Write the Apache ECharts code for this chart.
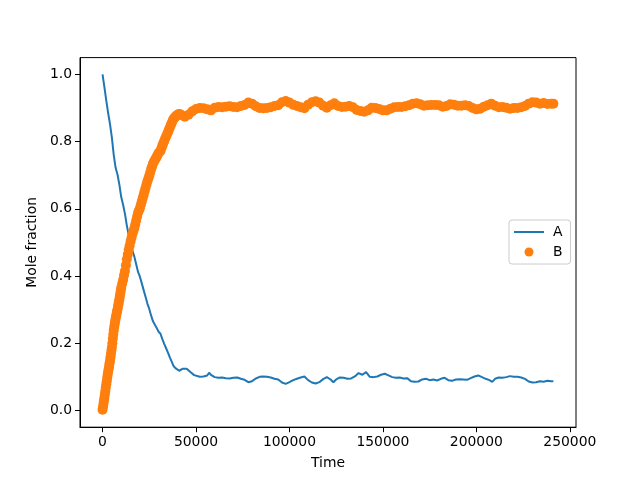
<!DOCTYPE html>
<html>
<head>
<meta charset="utf-8">
<script src="https://cdn.jsdelivr.net/npm/echarts@6/dist/echarts.min.js"></script>
<style>html,body{margin:0;padding:0;background:#fff}#c{width:640px;height:480px}</style>
</head>
<body>
<div id="c"></div>
<script>
// Series A (line): time and mole fraction
const timeA = [0,1000,2000,3000,4000,5000,6000,7000,8000,9000,10000,11000,12000,13000,14000,15000,16000,17000,18000,19000,20000,21000,22000,23000,24000,25000,26000,27000,28000,29000,30000,31000,32000,33000,34000,35000,36000,37000,38000,39000,40000,41000,42000,43000,44000,45000,46000,47000,48000,49000,50000,52000,54000,56000,57000,58000,60000,62000,64000,66000,68000,70000,72000,74000,76000,78000,80000,82000,84000,86000,88000,90000,92000,94000,96000,98000,100000,102000,104000,106000,108000,110000,112000,114000,116000,118000,120000,122000,123500,125000,127000,129000,131000,133000,135000,137000,139000,141000,143000,145000,147000,149000,151000,153000,155000,157000,159000,161000,163000,165000,167000,169000,171000,173000,175000,177000,179000,181000,183000,185000,187000,189000,191000,193000,195000,197000,199000,201000,203000,205000,207000,208500,210000,212000,214000,216000,218000,220000,222000,224000,226000,228000,230000,232000,234000,236000,238000,240000,241200];
const valA = [1.000,0.962,0.922,0.885,0.852,0.812,0.760,0.722,0.702,0.672,0.635,0.612,0.585,0.550,0.522,0.497,0.475,0.458,0.435,0.412,0.398,0.378,0.358,0.338,0.318,0.302,0.282,0.265,0.255,0.245,0.234,0.228,0.212,0.198,0.185,0.172,0.158,0.145,0.132,0.126,0.121,0.118,0.120,0.124,0.126,0.124,0.120,0.114,0.110,0.105,0.103,0.100,0.101,0.104,0.112,0.106,0.099,0.097,0.098,0.096,0.095,0.097,0.098,0.094,0.091,0.084,0.087,0.095,0.100,0.101,0.100,0.098,0.094,0.092,0.083,0.079,0.084,0.090,0.094,0.098,0.101,0.090,0.083,0.080,0.084,0.093,0.099,0.092,0.084,0.092,0.098,0.097,0.094,0.095,0.101,0.111,0.106,0.114,0.100,0.099,0.101,0.106,0.109,0.104,0.099,0.097,0.098,0.095,0.096,0.087,0.085,0.086,0.092,0.094,0.090,0.092,0.089,0.094,0.097,0.090,0.088,0.092,0.093,0.092,0.091,0.096,0.101,0.104,0.099,0.094,0.090,0.085,0.094,0.098,0.097,0.099,0.102,0.100,0.100,0.098,0.094,0.086,0.083,0.084,0.087,0.085,0.088,0.087,0.087];

// Series B (scatter): time and mole fraction
const timeB = [0,250,500,750,1000,1250,1500,1750,2000,2250,2500,2750,3000,3250,3500,3750,4000,4250,4500,4750,5000,5250,5500,5750,6000,6250,6500,6750,7000,7250,7500,7750,8000,8250,8500,8750,9000,9250,9500,9750,10000,10500,11000,11500,12000,12500,13000,13500,14000,14500,15000,15500,16000,16500,17000,17500,18000,18500,19000,19500,20000,20500,21000,21500,22000,22500,23000,23500,24000,24500,25000,25500,26000,26500,27000,27500,28000,28500,29000,29500,30000,30500,31000,31500,32000,32500,33000,33500,34000,34500,35000,35500,36000,36500,37000,37500,38000,38500,39000,39500,40000,40500,41000,41500,42000,44000,46000,48000,50000,52000,54000,56000,58000,60000,62000,64000,66000,68000,70000,72000,74000,76000,78000,80000,82000,84000,86000,88000,90000,92000,94000,96000,98000,100000,102000,104000,106000,108000,110000,112000,114000,116000,118000,120000,122000,124000,126000,128000,130000,132000,134000,136000,138000,140000,142000,144000,146000,148000,150000,152000,154000,156000,158000,160000,162000,164000,166000,168000,170000,172000,174000,176000,178000,180000,182000,184000,186000,188000,190000,192000,194000,196000,198000,200000,202000,204000,206000,208000,210000,212000,214000,216000,218000,220000,222000,224000,226000,228000,230000,232000,234000,236000,238000,240000,241200];
const valB = [0.002,0.010,0.020,0.029,0.038,0.048,0.058,0.068,0.078,0.087,0.097,0.106,0.115,0.123,0.131,0.140,0.148,0.158,0.168,0.178,0.188,0.200,0.213,0.226,0.238,0.248,0.257,0.265,0.273,0.280,0.287,0.294,0.300,0.308,0.316,0.323,0.330,0.339,0.348,0.356,0.365,0.377,0.388,0.402,0.415,0.432,0.450,0.464,0.478,0.490,0.503,0.514,0.525,0.534,0.542,0.553,0.565,0.577,0.588,0.595,0.602,0.612,0.622,0.632,0.642,0.652,0.662,0.672,0.682,0.690,0.698,0.708,0.718,0.726,0.735,0.740,0.745,0.750,0.755,0.761,0.766,0.769,0.772,0.780,0.788,0.795,0.802,0.809,0.815,0.822,0.828,0.835,0.842,0.849,0.855,0.862,0.868,0.871,0.874,0.877,0.879,0.881,0.882,0.881,0.880,0.874,0.880,0.890,0.897,0.900,0.899,0.896,0.893,0.901,0.903,0.902,0.904,0.905,0.903,0.902,0.906,0.909,0.916,0.913,0.905,0.900,0.899,0.900,0.902,0.906,0.908,0.917,0.921,0.916,0.910,0.906,0.902,0.899,0.910,0.917,0.920,0.916,0.907,0.901,0.908,0.914,0.906,0.903,0.904,0.906,0.902,0.894,0.891,0.889,0.893,0.901,0.900,0.897,0.893,0.893,0.898,0.902,0.903,0.903,0.905,0.908,0.913,0.914,0.911,0.907,0.908,0.909,0.909,0.908,0.904,0.906,0.911,0.910,0.907,0.907,0.908,0.906,0.900,0.896,0.898,0.904,0.908,0.913,0.907,0.902,0.903,0.901,0.898,0.900,0.900,0.902,0.906,0.913,0.917,0.916,0.913,0.915,0.912,0.913,0.913];

const xTicks = [0,50000,100000,150000,200000,250000];
const yTicks = [0,0.2,0.4,0.6,0.8,1.0];

const dataA = timeA.map((t,i)=>[t,valA[i]]);
const dataB = timeB.map((t,i)=>[t,valB[i]]);

const font = 'DejaVu Sans';
const chart = echarts.init(document.getElementById('c'), null, {renderer:'canvas'});
chart.setOption({
  animation:false,
  backgroundColor:'#ffffff',
  grid:{left:80,right:64,top:57.6,bottom:52.8,show:true,borderColor:'#000',borderWidth:1,backgroundColor:'transparent'},
  legend:{
    orient:'vertical', left:509, top:220,
    padding:[5,8,5,5], itemGap:6, itemWidth:30, itemHeight:9,
    borderColor:'#cccccc', borderWidth:1, borderRadius:3,
    backgroundColor:'rgba(255,255,255,0.8)',
    textStyle:{fontFamily:font,fontSize:13.9,color:'#000',padding:[0,0,0,4]},
    data:[{name:'A',icon:'path://M0,0L30,0L30,2L0,2Z'},{name:'B',icon:'circle'}]
  },
  xAxis:{
    type:'value', min:-12060, max:253310,
    name:'Time', nameLocation:'middle', nameGap:29,
    nameTextStyle:{fontFamily:font,fontSize:13.9,color:'#000'},
    axisLine:{show:true,onZero:false,lineStyle:{color:'#000',width:1}},
    axisTick:{show:true,length:5,lineStyle:{color:'#000'},customValues:xTicks},
    axisLabel:{fontFamily:font,fontSize:13.9,color:'#000',margin:8,customValues:xTicks,formatter:v=>String(v)},
    splitLine:{show:false}
  },
  yAxis:{
    type:'value', min:-0.05, max:1.05,
    name:'Mole fraction', nameLocation:'middle', nameGap:37,
    nameTextStyle:{fontFamily:font,fontSize:13.9,color:'#000'},
    axisLine:{show:true,onZero:false,lineStyle:{color:'#000',width:1}},
    axisTick:{show:true,length:5,lineStyle:{color:'#000'},customValues:yTicks},
    axisLabel:{fontFamily:font,fontSize:13.9,color:'#000',margin:8,customValues:yTicks,formatter:v=>v.toFixed(1)},
    splitLine:{show:false}
  },
  series:[
    {name:'A',type:'line',data:dataA,showSymbol:false,symbol:'none',
     lineStyle:{color:'#1f77b4',width:2},itemStyle:{color:'#1f77b4'},z:2},
    {name:'B',type:'scatter',data:dataB,symbol:'circle',symbolSize:10,
     itemStyle:{color:'#ff7f0e',opacity:1},z:3}
  ]
});
</script>
</body>
</html>
